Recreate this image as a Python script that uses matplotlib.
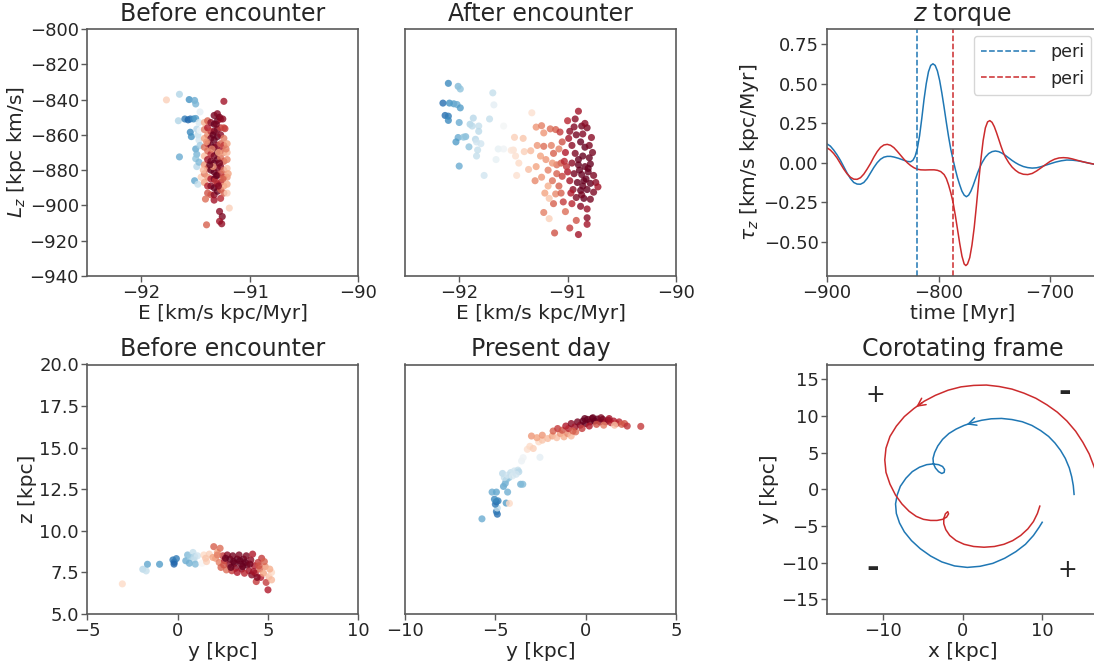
import numpy as np
import matplotlib
matplotlib.use("Agg")
import matplotlib.pyplot as plt

# ---- data ----
# top-left: E vs Lz before encounter  (E, Lz, colour value)
before_E = [-91.77, -91.65, -91.56, -91.51, -91.50, -91.46, -91.66, -91.60, -91.57, -91.55,
            -91.52, -91.50, -91.55, -91.54, -91.49, -91.48, -91.47, -91.65, -91.50, -91.49,
            -91.50, -91.49, -91.51, -91.48, -91.47, -91.46, -91.47, -91.45, -91.46,
            -91.42, -91.42, -91.42, -91.42, -91.42, -91.42, -91.42, -91.42,
            -91.39, -91.39, -91.39, -91.39, -91.39, -91.39, -91.39, -91.39, -91.39, -91.39,
            -91.36, -91.36, -91.36, -91.36, -91.36, -91.36, -91.36, -91.36, -91.36, -91.36,
            -91.33, -91.33, -91.33, -91.33, -91.33, -91.33, -91.33, -91.33, -91.33, -91.33, -91.33, -91.33,
            -91.30, -91.30, -91.30, -91.30, -91.30, -91.30, -91.30, -91.30, -91.30, -91.30, -91.30,
            -91.27, -91.27, -91.27, -91.27, -91.27, -91.27, -91.27, -91.27, -91.27, -91.27, -91.27,
            -91.24, -91.24, -91.24, -91.24, -91.24, -91.24, -91.24, -91.24, -91.24,
            -91.21, -91.21, -91.21, -91.21, -91.21, -91.21, -91.21,
            -91.24, -91.28, -91.25, -91.31, -91.23, -91.28, -91.255, -91.28, -91.26, -91.40,
            -91.19, -91.41, -91.34, -91.32, -91.29, -91.35,
            -91.40, -91.37, -91.31, -91.28, -91.25, -91.22, -91.34, -91.29, -91.43, -91.20]
before_Lz = [-840.2, -837.0, -840.0, -840.5, -842.5, -847.0, -852.0, -851.0, -851.5, -851.0,
             -851.0, -850.7, -858.5, -861.0, -856.7, -860.0, -863.0, -872.5, -868.0, -871.0,
             -873.5, -878.0, -886.0, -888.0, -853.0, -866.0, -875.5, -884.0, -857.5,
             -853, -857, -862, -867, -872, -877, -882, -887,
             -852, -856, -860, -865, -869, -874, -879, -884, -889, -893,
             -853, -858, -862, -866, -871, -875, -880, -885, -889, -894,
             -849, -854, -858, -863, -867, -872, -876, -881, -885, -890, -894, -897,
             -848, -852, -857, -861, -866, -870, -874, -879, -883, -888, -892,
             -851, -856, -860, -865, -869, -873, -878, -882, -887, -891, -896,
             -856, -862, -866, -870, -875, -880, -884, -889, -893,
             -865, -870, -874, -879, -884, -888, -893,
             -841.0, -850.0, -851.0, -854.0, -856.5, -903.4, -906.3, -909.0, -910.4, -911.0,
             -901.5, -896.4, -878.0, -886.0, -870.0, -868.0,
             -864.0, -877.0, -883.0, -876.0, -885.0, -868.0, -860.0, -889.0, -880.0, -882.0]
before_c = [0.62, 0.35, 0.20, 0.25, 0.27, 0.45, 0.35, 0.15, 0.10, 0.12,
            0.18, 0.22, 0.18, 0.20, 0.36, 0.38, 0.40, 0.25, 0.24, 0.27,
            0.30, 0.36, 0.24, 0.38, 0.42, 0.33, 0.28, 0.62, 0.48,
            0.68, 0.75, 0.70, 0.78, 0.66, 0.72, 0.76, 0.70,
            0.80, 0.90, 0.74, 0.85, 0.78, 0.92, 0.80, 0.72, 0.88, 0.82,
            0.95, 0.85, 0.97, 1.00, 0.88, 0.98, 1.00, 0.90, 0.96, 0.82,
            0.98, 1.00, 0.95, 1.00, 1.00, 0.97, 1.00, 1.00, 0.98, 1.00, 0.95, 0.92,
            0.96, 1.00, 0.98, 1.00, 0.95, 1.00, 1.00, 0.97, 1.00, 0.95, 1.00,
            0.90, 0.85, 0.95, 0.80, 0.92, 0.78, 0.96, 0.84, 0.90, 0.80, 0.88,
            0.82, 0.76, 0.85, 0.72, 0.80, 0.78, 0.84, 0.70, 0.80,
            0.70, 0.66, 0.74, 0.64, 0.72, 0.68, 0.62,
            0.92, 0.98, 0.95, 0.98, 0.85, 0.95, 0.97, 0.92, 0.94, 0.80,
            0.62, 0.78, 0.72, 0.86, 0.70, 0.75,
            0.72, 1.00, 1.00, 0.98, 0.80, 0.75, 1.00, 0.96, 0.66, 0.70]

# top-middle: E vs Lz after encounter
after_E = [-92.10, -92.01, -91.99, -92.15, -92.09, -92.05, -92.02, -91.99, -92.13, -92.10,
           -92.10, -92.00, -92.01, -92.03, -92.00, -91.94, -91.96, -91.69, -91.68, -91.72,
           -91.87, -91.90, -91.88, -91.82, -91.82, -91.85, -91.84, -91.80, -91.91, -91.83,
           -91.84, -91.77, -91.66, -91.64, -91.59, -91.59,
           -91.33, -91.49, -91.41, -91.50, -91.52, -91.48, -91.45, -91.47, -91.40, -91.34, -91.36,
           -91.29, -91.24, -91.22, -91.16, -91.11, -91.07, -91.28, -91.22, -91.25, -91.20,
           -91.15, -91.13, -91.29, -91.18, -91.24, -91.30, -91.18, -91.14, -91.21, -91.11,
           -91.13, -91.17, -91.22, -91.17, -91.10, -91.06, -91.08, -91.04, -91.02, -91.12,
           -90.98, -90.90, -90.92, -90.82, -90.82, -90.90,
           -90.98, -90.94, -90.87, -90.82, -90.84, -90.99, -90.92, -90.78, -90.96, -90.88,
           -90.84, -91.02, -90.93, -90.86, -90.80, -90.77, -91.03, -90.96, -90.90, -90.84,
           -90.79, -91.00, -90.94, -90.87, -90.81, -90.76, -90.98, -90.91, -90.85, -90.79,
           -90.74, -90.72, -90.95, -90.88, -90.82, -90.76, -90.92, -90.85, -90.79, -90.88,
           -90.82, -90.96, -90.93, -91.00, -90.86, -90.80, -91.05, -91.08, -91.05, -91.06,
           -90.89, -90.83, -90.86, -90.90, -90.81, -90.87, -91.01, -90.97, -91.10, -91.14]
after_Lz = [-830.8, -832.5, -834.0, -842.0, -842.0, -842.4, -842.8, -844.7, -849.0, -849.4,
            -851.8, -853.0, -861.5, -864.0, -877.7, -861.0, -861.3, -836.2, -843.0, -851.0,
            -850.5, -854.0, -855.0, -855.0, -858.0, -862.5, -864.0, -865.0, -866.8, -868.6,
            -872.0, -883.0, -874.0, -868.0, -868.0, -855.0,
            -847.5, -861.4, -862.0, -868.6, -868.8, -872.0, -876.0, -883.0, -869.5, -869.0, -879.6,
            -855.6, -854.8, -858.9, -856.6, -857.0, -858.4, -866.0, -866.5, -872.0, -874.0,
            -866.0, -870.5, -878.0, -880.0, -884.0, -886.0, -889.0, -886.0, -893.0, -893.5,
            -899.0, -896.0, -904.0, -907.5, -882.0, -876.0, -889.0, -898.0, -903.5, -915.6,
            -912.8, -916.5, -908.5, -910.7, -907.0, -846.6,
            -858.0, -855.5, -855.0, -856.0, -853.5, -862.0, -860.0, -861.5, -866.0, -864.0,
            -867.0, -870.0, -870.5, -872.0, -873.0, -870.0, -875.0, -876.0, -877.0, -878.0,
            -876.5, -881.0, -882.0, -882.5, -881.0, -883.0, -886.0, -887.0, -886.0, -887.5,
            -887.0, -889.5, -891.0, -891.5, -891.0, -892.5, -895.5, -896.0, -896.5, -900.5,
            -902.0, -899.0, -851.0, -852.0, -859.5, -866.0, -864.0, -868.0, -883.5, -893.0,
            -880.0, -885.0, -889.0, -874.0, -879.0, -894.0, -878.0, -893.0, -877.0, -876.0]
after_c = [0.18, 0.28, 0.30, 0.12, 0.20, 0.22, 0.25, 0.22, 0.12, 0.15,
           0.18, 0.25, 0.25, 0.22, 0.25, 0.28, 0.30, 0.38, 0.45, 0.38,
           0.36, 0.35, 0.37, 0.38, 0.37, 0.36, 0.40, 0.40, 0.30, 0.38,
           0.38, 0.40, 0.46, 0.46, 0.48, 0.49,
           0.58, 0.62, 0.64, 0.58, 0.56, 0.58, 0.60, 0.58, 0.62, 0.66, 0.65,
           0.72, 0.75, 0.72, 0.78, 0.80, 0.85, 0.72, 0.78, 0.70, 0.72,
           0.75, 0.80, 0.70, 0.75, 0.72, 0.74, 0.68, 0.78, 0.70, 0.74,
           0.80, 0.64, 0.75, 0.62, 0.80, 0.82, 0.80, 0.85, 0.78, 0.82,
           0.85, 0.92, 0.82, 0.92, 0.95, 0.92,
           0.95, 0.96, 0.98, 0.97, 0.95, 0.92, 0.98, 0.95, 0.95, 1.00,
           1.00, 0.90, 0.97, 1.00, 1.00, 0.98, 0.88, 0.95, 1.00, 1.00,
           1.00, 0.90, 0.98, 1.00, 1.00, 0.97, 0.92, 1.00, 1.00, 1.00,
           0.95, 0.92, 0.95, 1.00, 1.00, 0.97, 0.97, 1.00, 0.98, 0.95,
           0.93, 0.88, 0.95, 0.88, 0.96, 0.97, 0.82, 0.75, 0.84, 0.80,
           1.00, 1.00, 1.00, 1.00, 1.00, 0.98, 0.86, 0.90, 0.78, 0.72]

# bottom-left: y vs z before encounter
yb = [-3.06, -1.93, -1.74, -1.67, -1.00, -0.26, -0.19, -0.07, -0.20, 0.45,
      0.55, 0.85, 0.70, 0.95, 1.10, 0.90, 0.65, 0.98, 1.35, 1.45,
      1.60, 1.75, 1.55,
      2.00, 2.20, 2.10, 2.30, 2.50, 2.60, 2.75, 2.85, 2.90, 3.05,
      3.15, 3.20, 3.30, 3.40, 3.50, 3.55, 3.65, 3.80, 3.85, 3.95,
      4.05, 4.15, 4.25, 4.30, 4.45, 4.55, 4.65, 4.60, 4.75, 4.85,
      4.90, 5.00, 5.05, 5.20, 5.10, 5.20, 2.40, 2.70, 3.00, 3.30,
      2.55, 3.70, 4.10, 4.35, 1.95, 2.35, 4.80, 4.40,
      2.65, 3.10, 3.45, 3.75, 4.00, 2.95, 3.60, 4.20, 2.20, 4.50]
zb = [6.81, 7.69, 7.59, 7.99, 7.99, 8.25, 8.11, 8.33, 8.00, 8.20,
      8.55, 8.70, 8.40, 8.45, 8.50, 8.25, 8.05, 8.00, 8.05, 8.55,
      8.15, 8.60, 8.35,
      9.05, 8.70, 8.35, 8.10, 8.50, 8.20, 8.55, 7.95, 8.30, 8.50,
      8.05, 7.75, 8.30, 8.55, 8.00, 7.70, 8.30, 8.50, 7.95, 7.60,
      8.25, 8.60, 7.90, 7.45, 8.10, 7.70, 8.35, 7.20, 7.45, 7.85,
      6.90, 6.45, 7.25, 7.50, 7.70, 7.05, 7.80, 7.65, 7.60, 7.50,
      7.95, 7.45, 7.35, 6.95, 8.40, 8.95, 8.15, 7.20,
      8.35, 8.15, 8.20, 8.10, 8.00, 7.80, 7.85, 7.55, 8.55, 7.90]
cb = [0.60, 0.36, 0.38, 0.24, 0.22, 0.14, 0.12, 0.15, 0.10, 0.25,
      0.28, 0.38, 0.32, 0.36, 0.40, 0.38, 0.26, 0.28, 0.50, 0.60,
      0.62, 0.62, 0.64,
      0.80, 0.70, 0.72, 0.75, 0.85, 0.88, 0.95, 0.95, 1.00, 0.98,
      1.00, 0.95, 1.00, 0.97, 1.00, 0.95, 1.00, 0.97, 1.00, 0.92,
      0.95, 0.90, 0.90, 0.88, 0.85, 0.80, 0.85, 0.90, 0.70, 0.72,
      0.85, 0.90, 0.65, 0.60, 0.68, 0.66, 0.80, 0.78, 0.85, 0.90,
      0.82, 0.88, 0.95, 0.85, 0.70, 0.78, 0.80, 0.96,
      1.00, 1.00, 1.00, 1.00, 0.98, 1.00, 1.00, 0.92, 0.75, 0.82]

# bottom-middle: y vs z present day
yp = [-5.74, -4.89, -4.94, -4.89, -5.00, -4.95, -4.85, -5.05, -4.40, -4.22,
      -5.18, -4.94, -4.32, -4.55, -4.45, -4.40, -4.25, -3.60, -3.48, -4.60,
      -4.50, -4.30, -4.15, -3.95, -3.75, -3.70, -4.05, -3.85, -3.55, -3.46,
      -2.53, -3.23, -3.09, -2.90, -2.60, -2.40, -3.00, -2.70, -2.40, -2.10,
      -1.85, -1.60, -1.40, -1.20, -1.00, -0.80, -0.55,
      -1.80, -1.55, -1.30, -1.10, -0.95, -0.80, -0.60, -0.45, -0.30, -0.15,
      0.00, 0.10, 0.25, 0.35, 0.50, 0.65, 0.80, 0.95, 1.10, 1.25,
      1.40, 1.55, 1.70, 1.85, 2.00, 2.15, 2.30, 1.60, 3.05, 0.20,
      -0.20, 0.60, 1.00, -0.70, 0.40, 0.85, -0.05, 1.30]
zp = [10.72, 11.00, 11.16, 11.37, 11.60, 11.75, 11.80, 11.90, 11.67, 11.65,
      12.33, 12.33, 12.33, 12.67, 12.85, 13.05, 13.20, 12.80, 12.80, 13.45,
      13.20, 13.35, 13.50, 13.60, 13.65, 13.55, 13.30, 13.40, 14.20, 14.40,
      14.42, 14.90, 15.08, 14.95, 15.35, 15.45, 15.70, 15.60, 15.75, 15.55,
      15.70, 15.60, 15.85, 15.65, 15.85, 15.70, 15.95,
      16.00, 16.15, 16.05, 16.30, 16.15, 16.45, 16.25, 16.55, 16.35, 16.60,
      16.45, 16.70, 16.55, 16.75, 16.60, 16.72, 16.55, 16.70, 16.55, 16.65,
      16.50, 16.60, 16.45, 16.55, 16.40, 16.45, 16.30, 16.35, 16.28, 16.30,
      16.15, 16.40, 16.35, 16.00, 16.80, 16.80, 16.75, 16.75]
cp = [0.25, 0.12, 0.14, 0.38, 0.15, 0.12, 0.16, 0.18, 0.22, 0.60,
      0.25, 0.24, 0.26, 0.24, 0.26, 0.28, 0.30, 0.26, 0.28, 0.36,
      0.38, 0.40, 0.38, 0.40, 0.38, 0.36, 0.42, 0.40, 0.47, 0.48,
      0.45, 0.58, 0.60, 0.62, 0.60, 0.64, 0.72, 0.70, 0.72, 0.66,
      0.70, 0.65, 0.72, 0.68, 0.74, 0.66, 0.78,
      0.80, 0.85, 0.82, 0.90, 0.88, 0.95, 0.92, 0.98, 0.95, 1.00,
      1.00, 1.00, 1.00, 0.98, 1.00, 1.00, 0.95, 0.98, 0.92, 0.95,
      0.88, 0.90, 0.85, 0.88, 0.80, 0.82, 0.86, 0.65, 0.85, 0.90,
      0.85, 0.82, 0.75, 0.80, 1.00, 0.97, 1.00, 0.92]

# top-right: z torque vs time
t_blue = [-900, -897, -894, -891, -888, -885, -882, -879, -876, -873, -870, -867, -864, -861,
          -858, -855, -852, -849, -846, -843, -840, -836, -832, -828, -825, -823, -821, -819,
          -817, -815, -813, -811, -809, -807, -805, -803, -801, -799, -797, -795, -793, -791,
          -789, -787, -785, -783, -781, -779, -777, -775, -773, -771, -769, -767, -765, -763,
          -761, -758, -755, -752, -749, -746, -743, -740, -737, -734, -731, -728, -724, -720,
          -716, -712, -708, -704, -700, -695, -690, -685, -680, -675, -670, -665, -660]
tau_blue = [0.119, 0.105, 0.080, 0.050, 0.015, -0.025, -0.065, -0.100, -0.125, -0.135, -0.136,
            -0.125, -0.100, -0.065, -0.030, 0.000, 0.022, 0.035, 0.040, 0.040, 0.036, 0.028,
            0.018, 0.008, 0.006, 0.015, 0.040, 0.090, 0.170, 0.280, 0.400, 0.500, 0.575, 0.615,
            0.625, 0.615, 0.580, 0.520, 0.440, 0.350, 0.255, 0.165, 0.085, 0.020, -0.040,
            -0.095, -0.140, -0.180, -0.205, -0.215, -0.205, -0.180, -0.145, -0.105, -0.065,
            -0.030, 0.000, 0.035, 0.058, 0.070, 0.074, 0.070, 0.060, 0.046, 0.030, 0.014, 0.000,
            -0.012, -0.024, -0.031, -0.034, -0.032, -0.025, -0.016, -0.007, 0.004, 0.012,
            0.017, 0.016, 0.012, 0.005, -0.003, -0.010]
t_red = [-900, -897, -894, -891, -888, -885, -882, -879, -876, -873, -870, -867, -864, -861,
         -858, -855, -852, -849, -846, -843, -840, -837, -834, -831, -828, -825, -822, -819,
         -816, -812, -808, -804, -801, -798, -795, -793, -791, -789, -787, -785, -783, -781,
         -779, -777, -775.5, -774, -772, -770, -768, -766, -764, -762, -760, -758, -756, -754,
         -752, -750, -748, -746, -744, -742, -740, -737, -734, -731, -728, -724, -720, -716,
         -712, -708, -704, -700, -696, -692, -688, -684, -680, -675, -670, -665, -660]
tau_red = [0.094, 0.080, 0.058, 0.030, -0.005, -0.040, -0.070, -0.092, -0.104, -0.105, -0.095,
           -0.072, -0.040, -0.005, 0.035, 0.070, 0.097, 0.112, 0.116, 0.110, 0.095, 0.072,
           0.047, 0.022, 0.000, -0.018, -0.032, -0.041, -0.045, -0.046, -0.045, -0.045, -0.048,
           -0.056, -0.075, -0.100, -0.140, -0.190, -0.250, -0.330, -0.420, -0.510, -0.590,
           -0.640, -0.650, -0.640, -0.600, -0.520, -0.410, -0.270, -0.120, 0.020, 0.140, 0.220,
           0.258, 0.266, 0.255, 0.228, 0.190, 0.148, 0.105, 0.066, 0.035, 0.000, -0.028, -0.048,
           -0.063, -0.073, -0.075, -0.068, -0.052, -0.032, -0.012, 0.008, 0.022, 0.030, 0.032,
           0.030, 0.024, 0.014, 0.005, -0.003, -0.010]
peri_blue = -818.9
peri_red = -787.4

# bottom-right: orbits in the corotating frame
orb_blue_x = [14.0, 13.9, 13.7, 13.4, 12.9, 12.3, 11.6, 10.8, 9.8, 8.7, 7.5, 6.2, 4.9, 3.6,
              2.4, 1.3, 0.2, -0.8, -1.7, -2.5, -3.1, -3.5, -3.7, -3.65, -3.4, -3.0, -2.6,
              -2.3, -2.25, -2.5, -3.0, -3.7, -4.5, -5.4, -6.3, -7.1, -7.8, -8.2, -8.4, -8.3,
              -7.9, -7.3, -6.4, -5.3, -4.0, -2.6, -1.0, 0.6, 2.2, 3.8, 5.3, 6.7, 7.9, 8.9,
              9.6, 10.0]
orb_blue_y = [-0.7, 0.5, 1.7, 2.9, 4.2, 5.3, 6.3, 7.2, 8.0, 8.7, 9.2, 9.5, 9.65, 9.6,
              9.4, 9.1, 8.7, 8.2, 7.6, 6.8, 5.9, 5.0, 4.2, 3.5, 2.9, 2.4, 2.15,
              2.3, 2.7, 3.1, 3.35, 3.45, 3.35, 3.0, 2.4, 1.5, 0.4, -0.8, -2.0, -3.3,
              -4.6, -5.8, -7.0, -8.1, -9.1, -9.9, -10.45, -10.65, -10.5, -10.1, -9.4, -8.5,
              -7.5, -6.3, -5.2, -4.5]
orb_red_x = [9.7, 9.4, 8.9, 8.2, 7.3, 6.3, 5.2, 4.0, 2.7, 1.4, 0.2, -0.8, -1.6, -2.1,
             -2.35, -2.35, -2.15, -1.85, -1.75, -2.0, -2.5, -3.2, -4.0, -4.9, -5.8, -6.7,
             -7.6, -8.4, -9.1, -9.6, -9.75, -9.6, -9.1, -8.3, -7.3, -6.1, -4.8, -3.4, -1.8,
             -0.2, 1.4, 3.0, 4.6, 6.2, 7.7, 9.2, 10.6, 11.9, 13.1, 14.2, 15.1, 15.9, 16.5,
             17.0, 17.4]
orb_red_y = [-2.3, -3.3, -4.4, -5.4, -6.3, -7.0, -7.5, -7.8, -7.9, -7.8, -7.5, -7.0, -6.3,
             -5.5, -4.7, -4.0, -3.35, -3.05, -3.35, -3.8, -4.1, -4.25, -4.25, -4.1, -3.7,
             -3.0, -2.0, -0.8, 0.7, 2.3, 4.0, 5.6, 7.2, 8.6, 9.9, 11.0, 12.0, 12.8, 13.5,
             13.95, 14.15, 14.2, 14.0, 13.65, 13.1, 12.4, 11.5, 10.5, 9.3, 7.9, 6.4, 4.8,
             3.1, 1.5, 0.0]

# ---- style ----
txt = '#262626'
edge = '#5a5a5a'
blue = '#1f77b4'
red = '#cc2b2d'
plt.rcParams['font.family'] = ['DejaVu Sans']
plt.rcParams['text.color'] = txt
plt.rcParams['axes.labelcolor'] = txt
plt.rcParams['xtick.color'] = txt
plt.rcParams['ytick.color'] = txt
plt.rcParams['axes.edgecolor'] = edge
plt.rcParams['axes.linewidth'] = 1.2
plt.rcParams['xtick.labelsize'] = 13
plt.rcParams['ytick.labelsize'] = 13
plt.rcParams['axes.labelsize'] = 14.5
plt.rcParams['axes.titlesize'] = 17
plt.rcParams['axes.labelpad'] = 1.5

fig = plt.figure(figsize=(10.94, 6.64), dpi=100)
W, H = 1094, 664


def box(left, top, right, bottom):
    return [left / W, 1 - bottom / H, (right - left) / W, (bottom - top) / H]


ax1 = fig.add_axes(box(87.3, 29, 358.3, 276))
ax2 = fig.add_axes(box(405, 29, 676, 276))
ax3 = fig.add_axes(box(827, 29, 1098, 276))
ax4 = fig.add_axes(box(87.3, 364.5, 358.3, 614))
ax5 = fig.add_axes(box(405, 364.5, 676, 614))
ax6 = fig.add_axes(box(827, 364.5, 1098, 614))

for ax in [ax1, ax2, ax3, ax4, ax5, ax6]:
    ax.tick_params(direction='out', length=4, width=1, pad=2, colors=edge, labelcolor=txt,
                   top=False, right=False)

sc = dict(cmap='RdBu_r', vmin=0, vmax=1, s=26, alpha=0.8, linewidths=0)

ax1.scatter(before_E, before_Lz, c=before_c, **sc)
ax1.set_xlim(-92.5, -90)
ax1.set_ylim(-940, -800)
ax1.set_xticks([-92, -91, -90])
ax1.set_yticks([-940, -920, -900, -880, -860, -840, -820, -800])
ax1.set_title('Before encounter')
ax1.set_xlabel('E [km/s kpc/Myr]')
ax1.set_ylabel('$L_z$ [kpc km/s]')

ax2.scatter(after_E, after_Lz, c=after_c, **sc)
ax2.set_xlim(-92.5, -90)
ax2.set_ylim(-940, -800)
ax2.set_xticks([-92, -91, -90])
ax2.set_yticks([])
ax2.set_title('After encounter')
ax2.set_xlabel('E [km/s kpc/Myr]')

ax3.plot(t_blue, tau_blue, color=blue, lw=1.1)
ax3.plot(t_red, tau_red, color=red, lw=1.1)
ax3.axvline(peri_blue, color=blue, ls='--', lw=1.1, label='peri')
ax3.axvline(peri_red, color=red, ls='--', lw=1.1, label='peri')
ax3.set_xlim(-900, -657)
ax3.set_ylim(-0.716, 0.845)
ax3.set_xticks([-900, -800, -700])
ax3.set_yticks([-0.5, -0.25, 0, 0.25, 0.5, 0.75])
ax3.set_title('$z$ torque')
ax3.set_xlabel('time [Myr]')
ax3.set_ylabel(r'$\tau_z$ [km/s kpc/Myr]')
ax3.legend(loc='upper right', fontsize=12.5, handlelength=3.2, borderaxespad=0.4)

ax4.scatter(yb, zb, c=cb, **sc)
ax4.set_xlim(-5, 10)
ax4.set_ylim(5, 20)
ax4.set_xticks([-5, 0, 5, 10])
ax4.set_yticks([5, 7.5, 10, 12.5, 15, 17.5, 20])
ax4.set_title('Before encounter')
ax4.set_xlabel('y [kpc]')
ax4.set_ylabel('z [kpc]')

ax5.scatter(yp, zp, c=cp, **sc)
ax5.set_xlim(-10, 5)
ax5.set_ylim(5, 20)
ax5.set_xticks([-10, -5, 0, 5])
ax5.set_yticks([])
ax5.set_title('Present day')
ax5.set_xlabel('y [kpc]')

ax6.plot(orb_blue_x, orb_blue_y, color=blue, lw=1.1)
ax6.plot(orb_red_x, orb_red_y, color=red, lw=1.1)
ax6.annotate('', xy=(orb_blue_x[16], orb_blue_y[16]), xytext=(orb_blue_x[15], orb_blue_y[15]),
             arrowprops=dict(arrowstyle='->', color=blue, lw=1.1, mutation_scale=14))
ax6.annotate('', xy=(orb_red_x[35], orb_red_y[35]), xytext=(orb_red_x[36], orb_red_y[36]),
             arrowprops=dict(arrowstyle='->', color=red, lw=1.1, mutation_scale=14))
ax6.text(-10.9, 12.8, '+', fontsize=17, ha='center', va='center')
ax6.text(13.15, -11.05, '+', fontsize=17, ha='center', va='center')
ax6.text(12.78, 13.2, '-', fontsize=22, fontweight='bold', ha='center', va='center')
ax6.text(-11.23, -10.8, '-', fontsize=22, fontweight='bold', ha='center', va='center')
ax6.set_xlim(-17, 17)
ax6.set_ylim(-17, 17)
ax6.set_xticks([-10, 0, 10])
ax6.set_yticks([-15, -10, -5, 0, 5, 10, 15])
ax6.set_title('Corotating frame')
ax6.set_xlabel('x [kpc]')
ax6.set_ylabel('y [kpc]')

fig.savefig('out.png', dpi=100)
